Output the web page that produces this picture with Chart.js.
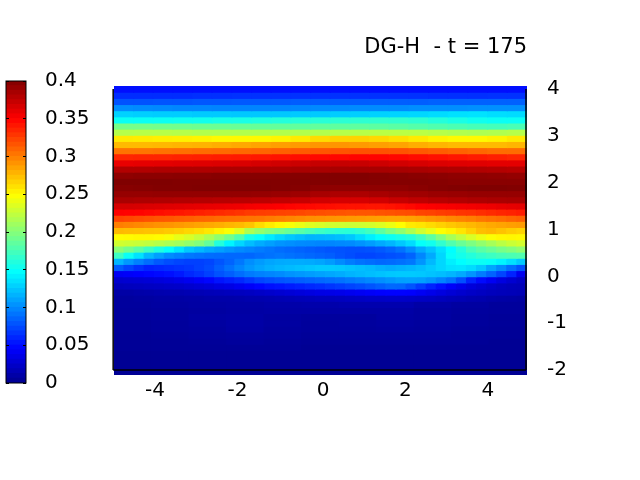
<!DOCTYPE html>
<html>
<head>
<meta charset="utf-8">
<script src="https://cdn.jsdelivr.net/npm/chart.js@4"></script>
<style>
html, body { margin: 0; padding: 0; background: #fff; }
canvas { position: absolute; left: 0; top: 0; }
</style>
</head>
<body>
<canvas id="heat" width="640" height="480"></canvas>
<canvas id="bar" width="110" height="420"></canvas>
<script>
var titleText = 'DG-H  - t = 175';
var xTicks = [-4, -2, 0, 2, 4];
var yTicks = [-2, -1, 0, 1, 2, 3, 4];
var barTicks = [0, 0.05, 0.1, 0.15, 0.2, 0.25, 0.3, 0.35, 0.4];
var barLabels = ['0', '0.05', '0.1', '0.15', '0.2', '0.25', '0.3', '0.35', '0.4'];

// values, in thousandths, rows from top to bottom
var topRows = [
    [50,50,50,50,50,50,50,50,50,50,50,50,50,50,50,50,50,50,50,50,50],
    [62,62,62,62,63,63,64,64,64,64,64,64,64,64,64,64,63,63,63,64,64],
    [77,77,78,78,79,79,80,80,80,81,81,81,81,82,82,82,83,83,83,83,83],
    [101,100,99,98,98,97,97,97,97,98,99,99,100,100,100,101,101,101,102,102,102],
    [128,127,126,126,125,125,124,124,124,125,125,126,127,128,129,130,132,134,135,133,132],
    [150,150,151,152,153,155,156,158,160,161,162,163,164,165,165,164,160,156,152,150,150],
    [193,193,192,191,190,189,188,187,186,185,185,184,184,183,182,180,178,176,174,173,175],
    [218,219,219,218,217,217,217,217,217,217,217,218,219,220,220,220,218,216,215,216,218],
    [256,255,254,253,252,250,250,250,252,256,262,265,265,263,260,256,252,250,250,252,256],
    [275,275,276,277,278,280,282,284,286,288,290,290,288,286,284,280,277,275,275,275,277],
    [303,303,304,305,306,307,308,309,311,313,315,316,317,317,316,314,312,310,308,306,306],
    [334,335,335,336,337,338,339,340,342,344,346,347,348,348,347,345,343,341,339,337,335],
    [358,359,360,361,362,363,364,366,368,370,372,372,371,369,367,365,363,362,361,360,360],
    [380,380,381,381,381,382,382,382,382,383,383,384,384,384,384,383,382,381,380,379,378],
    [394,395,395,396,396,397,397,397,398,398,399,399,399,398,397,396,395,394,394,393,392],
    [400,400,400,399,399,399,399,399,399,399,399,399,399,398,398,398,397,396,396,396,396],
    [397,398,399,399,400,400,400,400,399,398,395,394,394,394,394,396,398,399,400,400,399],
    [391,391,392,392,392,392,392,391,390,388,384,382,382,384,386,387,389,390,391,391,391],
    [383,382,381,380,379,378,377,376,374,372,368,366,366,368,372,375,378,380,382,383,384]
];
var midRows = [
    [366,366,365,364,363,362,361,360,359,358,357,356,355,353,352,351,350,348,347,346,345,344,343,342,342,341,341,342,344,346,349,350,351,352,353,354,355,356,358,359,360],
    [350,349,348,346,344,342,341,339,337,335,333,331,329,326,325,324,323,322,321,319,318,317,316,315,315,315,316,317,318,319,322,323,325,326,328,329,331,333,335,336,338],
    [323,321,319,317,315,314,312,311,309,308,306,305,304,303,302,300,298,296,294,292,291,290,289,288,287,286,285,284,284,285,287,290,292,295,297,299,302,304,306,309,311],
    [299,297,295,293,291,290,288,286,284,282,280,277,275,271,262,255,250,245,240,235,232,229,228,227,228,230,234,240,248,256,258,262,266,270,273,276,279,282,284,286,287],
    [275,274,273,272,271,269,267,264,261,257,252,246,235,215,205,198,193,187,181,175,170,166,163,162,165,172,183,195,203,215,228,238,248,252,258,266,274,276,272,268,265],
    [248,249,250,250,249,245,238,232,224,214,203,191,177,155,148,138,130,124,120,116,117,118,120,124,132,140,147,151,155,160,170,183,198,212,222,232,240,246,250,251,250],
    [229,227,225,222,218,214,210,204,198,186,160,142,130,120,113,108,104,102,100,99,98,98,99,100,103,107,112,117,124,132,148,153,165,178,188,196,204,212,220,226,230],
    [201,192,182,170,158,148,136,124,118,112,108,104,100,97,94,91,88,86,84,82,80,78,77,76,76,77,80,84,90,100,112,122,134,146,160,174,182,188,194,198,203],
    [170,150,135,118,108,100,96,92,90,88,87,86,86,85,88,90,92,90,88,86,84,82,78,75,72,72,74,76,78,84,98,112,130,148,154,160,166,170,174,176,178],
    [117,105,96,88,80,75,72,70,70,72,78,84,92,101,106,110,112,113,113,112,110,106,100,94,90,88,86,87,89,92,104,118,130,140,146,150,150,148,142,134,125],
    [81,72,64,58,60,62,64,66,70,74,82,90,98,105,110,114,117,119,121,123,125,125,124,122,120,118,115,113,115,117,120,125,130,135,136,132,124,110,100,88,77],
    [40,42,44,46,48,50,54,60,64,70,77,82,88,93,96,98,100,103,105,107,109,111,113,116,118,120,122,124,125,125,124,122,120,117,112,104,94,84,72,58,38],
    [25,26,27,28,30,32,35,38,42,46,52,56,60,66,72,75,78,80,82,84,86,88,90,93,96,99,102,105,108,109,108,104,97,90,76,58,48,40,32,26,21],
    [17,18,19,20,21,22,23,25,27,29,32,34,38,42,46,50,52,55,57,60,62,65,68,71,74,78,82,86,85,78,68,58,50,42,36,30,26,22,19,17,16],
    [9,9,10,11,12,13,13,14,15,16,17,18,19,20,22,24,26,28,30,32,34,35,36,38,40,42,44,45,45,44,40,36,32,28,25,22,20,18,17,16,15],
    [6,6,7,7,8,8,8,9,9,10,10,10,11,12,12,13,14,15,16,17,18,18,19,20,21,22,22,23,23,22,21,20,18,16,15,13,12,10,9,8,7]
];
var lowRows = [
    [6,7,8,9,10,11,12,12,9,7,5],
    [5,6,7,8,9,9,9,9,7,6,5],
    [5,6,8,9,7,6,6,8,7,5,4],
    [4,5,7,9,7,5,6,7,6,5,4],
    [4,5,6,8,6,5,5,6,5,4,3],
    [3,4,5,6,5,4,4,4,4,3,3],
    [3,3,4,5,4,3,3,3,3,3,2],
    [3,3,3,3,3,2,2,2,2,2,2],
    [2,2,2,2,2,2,2,2,2,2,2],
    [2,2,2,2,2,2,2,2,2,2,2],
    [2,2,2,2,2,2,2,2,2,2,2],
    [2,2,2,2,2,2,2,2,2,2,2]
];

var heatRows = topRows.concat(midRows, lowRows);

var xMin = -5, xMax = 5.024;
var yMax = 4.064, yMin = -2.107;
var plotLeft = 114, plotRight = 527, plotTop = 86, plotBottom = 375;
var labelFont = { family: 'DejaVu Sans', size: 20 };
var titleFont = { family: 'DejaVu Sans', size: 21 };

function clamp01(a) {
    return Math.max(0, Math.min(1, a));
}

function jetColor(v) {
    var t = (Math.min(1, v / 0.4) * 63 + 1) / 64;
    var r = clamp01(Math.min(4 * t - 1.5, -4 * t + 4.5));
    var g = clamp01(Math.min(4 * t - 0.5, -4 * t + 3.5));
    var b = clamp01(Math.min(4 * t + 0.5, -4 * t + 2.5));
    return 'rgb(' + Math.round(r * 255) + ',' + Math.round(g * 255) + ',' + Math.round(b * 255) + ')';
}

function makeHeatDatasets() {
    var sets = [];
    var dy = (yMax - yMin) / heatRows.length;
    heatRows.forEach(function (row, i) {
        var dx = (xMax - xMin) / row.length;
        var hi = yMax - i * dy;
        var lo = hi - dy;
        sets.push({
            type: 'bar',
            xAxisID: 'x',
            yAxisID: 'y',
            grouped: false,
            barThickness: (plotRight - plotLeft) / row.length,
            inflateAmount: 0.6,
            borderWidth: 0,
            order: 2,
            data: row.map(function (v, j) {
                return { x: xMin + (j + 0.5) * dx, y: [lo, hi] };
            }),
            backgroundColor: row.map(function (v) {
                return jetColor(v / 1000);
            })
        });
    });
    return sets;
}

function axisLine(points) {
    return {
        type: 'line',
        xAxisID: 'x',
        yAxisID: 'y',
        data: points,
        borderColor: '#000',
        borderWidth: 1.5,
        pointRadius: 0,
        clip: false,
        order: 1
    };
}

var heatSets = makeHeatDatasets();
heatSets.push(axisLine([{ x: -5.02, y: 4 }, { x: -5.02, y: -2 }]));
heatSets.push(axisLine([{ x: 5, y: 4 }, { x: 5, y: -2 }]));
heatSets.push(axisLine([{ x: -5.02, y: -2 }, { x: 5, y: -2 }]));

new Chart(document.getElementById('heat').getContext('2d'), {
    type: 'bar',
    data: { datasets: heatSets },
    options: {
        responsive: false,
        animation: false,
        layout: { padding: { left: plotLeft, right: 640 - plotRight - 60, top: 30, bottom: 480 - plotBottom - 40 } },
        plugins: { legend: { display: false }, tooltip: { enabled: false } },
        scales: {
            x: {
                type: 'linear',
                position: 'bottom',
                offset: false,
                min: xMin,
                max: xMax,
                grid: { display: false, offset: false, drawTicks: false, tickLength: 0 },
                border: { display: false },
                afterBuildTicks: function (s) { s.ticks = xTicks.map(function (v) { return { value: v }; }); },
                afterFit: function (s) { s.height = 40; },
                ticks: {
                    autoSkip: false,
                    maxRotation: 0,
                    padding: 4,
                    labelOffset: 3,
                    color: '#000',
                    font: labelFont,
                    callback: function (v) { return v < 0 ? v + ' ' : '' + v; }
                }
            },
            xTop: {
                type: 'linear',
                axis: 'x',
                position: 'top',
                min: xMin,
                max: xMax,
                offset: false,
                grid: { display: false },
                border: { display: false },
                ticks: { display: false },
                afterFit: function (s) { s.height = plotTop - 30; },
                title: { display: true, text: titleText, align: 'end', color: '#000', font: titleFont, padding: { top: 5, bottom: 0 } }
            },
            y: {
                type: 'linear',
                position: 'right',
                min: yMin,
                max: yMax,
                grid: { display: false, drawTicks: false, tickLength: 0 },
                border: { display: false },
                afterBuildTicks: function (s) { s.ticks = yTicks.map(function (v) { return { value: v }; }); },
                afterFit: function (s) { s.width = 60; },
                ticks: { autoSkip: false, padding: 20, color: '#000', font: labelFont }
            }
        }
    }
});

// colour key, one bar per level of the map
var barSets = [];
for (var k = 0; k < 64; k++) {
    barSets.push({
        grouped: false,
        borderWidth: 0,
        inflateAmount: 0.6,
        barPercentage: 1,
        categoryPercentage: 1,
        data: [[k * 0.00625, (k + 1) * 0.00625]],
        backgroundColor: jetColor((k + 0.5) * 0.00625)
    });
}

var frame = {
    id: 'frame',
    afterDraw: function (chart) {
        var a = chart.chartArea, c = chart.ctx;
        c.save();
        c.strokeStyle = '#000';
        c.lineWidth = 1;
        c.strokeRect(a.left, a.top, a.right - a.left, a.bottom - a.top);
        c.restore();
    }
};

new Chart(document.getElementById('bar').getContext('2d'), {
    type: 'bar',
    data: { labels: [''], datasets: barSets },
    plugins: [frame],
    options: {
        responsive: false,
        animation: false,
        layout: { padding: { left: 6, right: 0, top: 81, bottom: 37 } },
        plugins: { legend: { display: false }, tooltip: { enabled: false } },
        scales: {
            x: { display: false },
            y: {
                type: 'linear',
                position: 'right',
                min: 0,
                max: 0.4,
                grid: { color: '#000', z: 1, drawTicks: false, tickLength: 0 },
                border: { display: false, dash: [3, 14, 3, 40] },
                afterBuildTicks: function (s) { s.ticks = barTicks.map(function (v) { return { value: v }; }); },
                afterFit: function (s) { s.width = 84; },
                ticks: {
                    autoSkip: false,
                    padding: 19,
                    color: '#000',
                    font: labelFont,
                    callback: function (v, i) { return barLabels[i]; }
                }
            }
        }
    }
});
</script>
</body>
</html>
